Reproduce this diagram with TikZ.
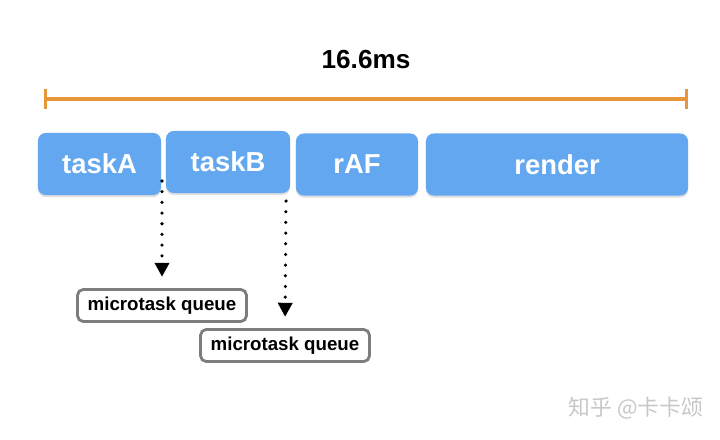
\documentclass[tikz,border=0pt]{standalone}
\usepackage{fontspec}
\setmainfont{Liberation Sans}
\newfontfamily\cjkfont{Noto Sans CJK SC}
\usepackage{tikz}
\usetikzlibrary{arrows.meta,shadows}
\definecolor{taskblue}{RGB}{98,167,239}
\definecolor{barorange}{RGB}{232,150,58}
\definecolor{queuegray}{RGB}{125,125,125}

\begin{document}
\begin{tikzpicture}[x=0.025cm,y=-0.025cm,
  task/.style={rounded corners=5.5pt,fill=taskblue,text=white,inner sep=0pt,
    font=\fontsize{19.5}{21}\selectfont\bfseries,minimum height=1.55cm,
    drop shadow={shadow xshift=0pt,shadow yshift=-1.5pt,opacity=0.25}},
  queue/.style={rounded corners=4pt,draw=queuegray,line width=2pt,fill=white,inner sep=0pt,
    font=\fontsize{13.3}{15}\selectfont\bfseries,minimum width=4.22cm,minimum height=0.8cm},
  micro/.style={line width=2.5pt,line cap=round,dash pattern=on 0pt off 7.6pt,
    -{Triangle[width=10pt,length=10pt]},shorten >=8pt}]
\useasboundingbox (0,0) rectangle (720,439);

\coordinate (start) at (44,99);
\coordinate (end) at (688,99);
\draw[barorange,line width=2.4pt,{Bar[width=14pt,line width=2.4pt]}-{Bar[width=14pt,line width=2.4pt]}] (start) -- (end);
\node[font=\fontsize{18.6}{20}\selectfont\bfseries] (frame) at (366,59) {16.6ms};

\node[task,minimum width=3.075cm] (taskA) at (99.5,164) {taskA};
\node[task,minimum width=3.1cm] (taskB) at (228,162) {taskB};
\node[task,minimum width=3.05cm] (raf) at (357,164.5) {rAF};
\node[task,minimum width=6.55cm] (render) at (557,164.5) {render};

\node[queue] (queueA) at (162,305.5) {microtask queue};
\node[queue] (queueB) at (285,345.5) {microtask queue};

\coordinate (fromA) at (162,181);
\coordinate (fromB) at (286,201);
\draw[micro] (fromA) -- (queueA.north);
\draw[micro] (fromB) -- (queueB.north);

\node[text=black!22,font=\cjkfont\fontsize{15.5}{17}\selectfont] (mark) at (636,408) {知乎 @卡卡颂};
\end{tikzpicture}
\end{document}
